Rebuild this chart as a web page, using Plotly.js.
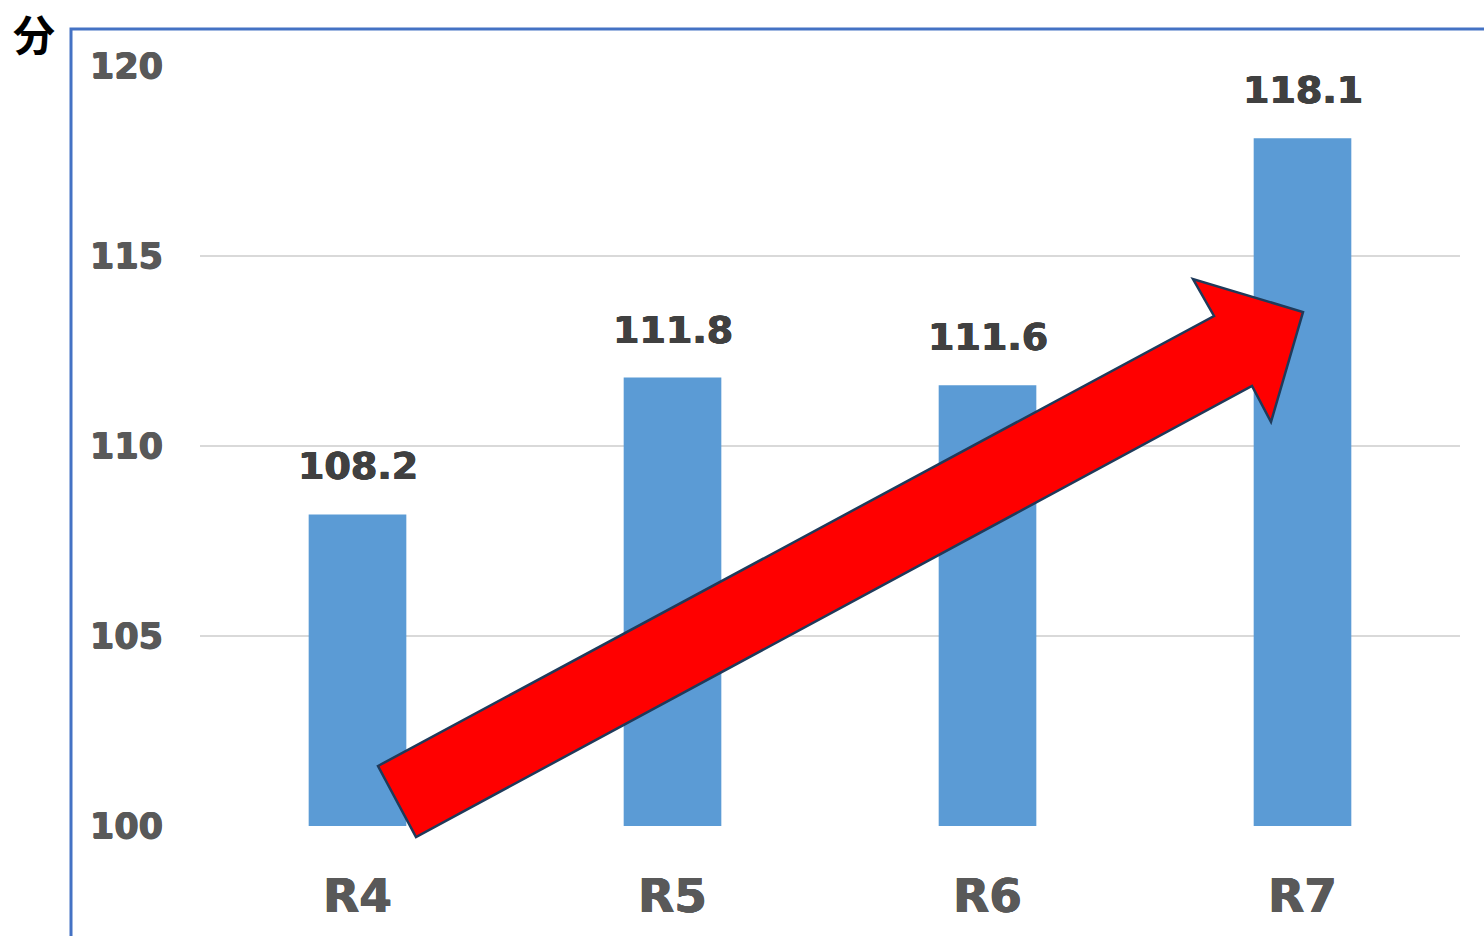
<!DOCTYPE html>
<html>
<head>
<meta charset="utf-8">
<script src="https://cdn.plot.ly/plotly-3.0.1.min.js"></script>
<style>html,body{margin:0;padding:0;background:#fff;}#chart{width:1484px;height:936px;}</style>
</head>
<body>
<div id="chart"></div>
<script>
const categories = ["R4", "R5", "R6", "R7"];
const values = [108.2, 111.8, 111.6, 118.1];
const yTicks = [100, 105, 110, 115, 120];
const unitLabel = "分";

// layout geometry (pixels)
const W = 1484, H = 936;
const M = {l: 200, r: 24, t: 66, b: 110};
const PW = W - M.l - M.r, PH = H - M.t - M.b;
const px = x => (x - M.l) / PW;
const py = y => (H - M.b - y) / PH;

// decorative arrow outline (pixel points)
const arrowPts = [[378,766],[1214,316],[1193,279],[1303,312],[1271,422],[1252,386],[416,837]];
const arrowPath = 'M ' + arrowPts.map(p => px(p[0]).toFixed(5) + ',' + py(p[1]).toFixed(5)).join(' L ') + ' Z';

const font = "'DejaVu Sans', Verdana, sans-serif";
const thick = c => `0.6px 0 0 ${c}, -0.6px 0 0 ${c}, 0 0.4px 0 ${c}`;

const trace = {
  type: 'bar',
  x: categories,
  y: values,
  marker: {color: '#5b9bd5'},
  hoverinfo: 'none'
};

const annotations = categories.map((c, i) => ({
  x: c, y: values[i], xref: 'x', yref: 'y',
  text: '<b>' + values[i].toFixed(1) + '</b>',
  showarrow: false, yanchor: 'bottom', yshift: 24,
  font: {family: font, size: 38, color: '#404040', shadow: thick('#404040')}
}));
annotations.push({
  xref: 'paper', yref: 'paper', x: px(34), y: py(33),
  xanchor: 'center', yanchor: 'middle',
  text: '<b>' + unitLabel + '</b>', showarrow: false,
  font: {family: "'Noto Sans CJK JP', sans-serif", size: 42, color: '#000'}
});

const layout = {
  width: W, height: H,
  margin: M,
  paper_bgcolor: '#fff', plot_bgcolor: '#fff',
  showlegend: false,
  bargap: 0.69,
  xaxis: {
    type: 'category',
    tickfont: {family: font, size: 47, color: '#595959', weight: 'bold', shadow: thick('#595959')},
    showgrid: false, zeroline: false, showline: false, ticks: '',
    ticklabelstandoff: 38
  },
  yaxis: {
    range: [100, 120],
    tickvals: yTicks,
    ticktext: yTicks.map(String),
    tickfont: {family: font, size: 35, color: '#595959', weight: 'bold', shadow: thick('#595959')},
    showgrid: true, gridcolor: '#d9d9d9', gridwidth: 2,
    zeroline: false, showline: false, ticks: '',
    ticklabelstandoff: 36
  },
  shapes: [
    {type: 'rect', xref: 'paper', yref: 'paper',
     x0: px(71), x1: px(1495), y0: py(950), y1: py(29),
     line: {color: '#4472c4', width: 3}, fillcolor: 'rgba(0,0,0,0)', layer: 'below'},
    {type: 'path', xref: 'paper', yref: 'paper', path: arrowPath,
     fillcolor: '#ff0000', line: {color: '#1f3a5a', width: 2.5}, layer: 'above'}
  ],
  annotations: annotations
};

Plotly.newPlot('chart', [trace], layout, {displayModeBar: false, staticPlot: true});
</script>
</body>
</html>
